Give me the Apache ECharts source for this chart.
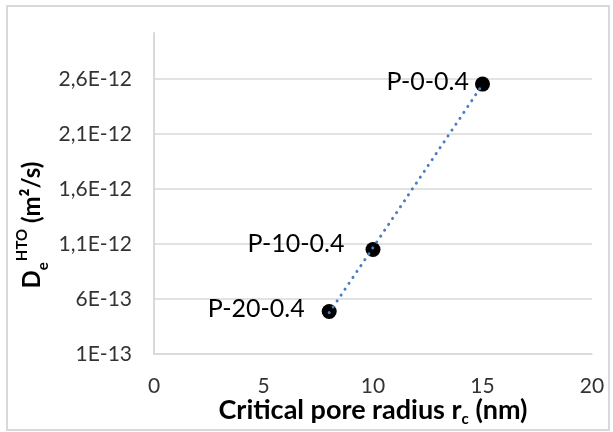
<!DOCTYPE html>
<html>
<head>
<meta charset="utf-8">
<script src="https://cdn.jsdelivr.net/npm/echarts@6/dist/echarts.min.js"></script>
<style>
html,body{margin:0;padding:0;background:#fff;}
#wrap{position:relative;width:613px;height:432px;}
#chart{position:absolute;left:0;top:0;width:613px;height:432px;}
#frame{position:absolute;left:6px;top:5px;width:604px;height:426px;box-sizing:border-box;border:2px solid #d9d9d9;pointer-events:none;}
</style>
</head>
<body>
<div id="wrap"><div id="chart"></div><div id="frame"></div></div>
<script>
// Data
const sampleNames = ['P-20-0.4', 'P-10-0.4', 'P-0-0.4'];
const poreRadius = [8, 10, 15];                 // nm
const diffusivity = [4.87e-13, 1.05e-12, 2.555e-12]; // m2/s
const trendX = [8, 15];
const trendY = [4.75e-13, 2.55e-12];
const xTicks = [0, 5, 10, 15, 20];
const yTickStart = 1e-13, yTickStep = 5e-13, yTop = 3.02e-12;

// label placement (style only)
const labelPlacement = [
  {distance: 17, offset: [0, -3]},
  {distance: 21, offset: [0, -6]},
  {distance: 6, offset: [0, -2]}
];

function fmtSci(v) {
  if (v <= 0) return '0';
  let e = Math.floor(Math.log10(v) + 1e-9);
  let m = v / Math.pow(10, e);
  m = Math.round(m * 10) / 10;
  if (m >= 10) { m = m / 10; e += 1; }
  let ms = (Math.abs(m - Math.round(m)) < 1e-9) ? String(Math.round(m)) : m.toFixed(1).replace('.', ',');
  return ms + 'E' + e;
}

const chart = echarts.init(document.getElementById('chart'), null, {renderer: 'canvas'});
const FONT = 'Lato';

const scatterData = poreRadius.map((x, i) => ({
  value: [x, diffusivity[i]],
  name: sampleNames[i],
  label: {
    show: true,
    position: 'left',
    distance: labelPlacement[i].distance,
    offset: labelPlacement[i].offset,
    formatter: sampleNames[i],
    fontFamily: FONT,
    fontSize: 25,
    color: '#000'
  }
}));

chart.setOption({
  animation: false,
  backgroundColor: '#fff',
  grid: {left: 154, right: 21, top: 33, bottom: 78, containLabel: false, outerBoundsMode: 'none'},
  graphic: [{
    type: 'text',
    x: 32, y: 225,
    rotation: Math.PI / 2,
    style: {
      text: '{b|D}{s|e}{p|HTO}{b| (m²/s)}',
      align: 'center',
      verticalAlign: 'middle',
      rich: {
        b: {fontFamily: FONT, fontSize: 24, fontWeight: 'bold', fill: '#000', lineHeight: 30},
        s: {fontFamily: FONT, fontSize: 15, fontWeight: 'bold', fill: '#000', lineHeight: 15, verticalAlign: 'bottom', padding: [0, 1, -4, 0]},
        p: {fontFamily: FONT, fontSize: 15, fontWeight: 'bold', fill: '#000', lineHeight: 15, verticalAlign: 'top', padding: [-2, 0, 0, 0]}
      }
    }
  }],
  xAxis: {
    type: 'value',
    min: 0, max: 20, interval: 5,
    axisLine: {show: true, lineStyle: {color: '#d9d9d9', width: 1.5}},
    axisTick: {show: false},
    splitLine: {show: false},
    axisLabel: {
      fontFamily: FONT, fontSize: 21, color: '#333', margin: 22,
      formatter: v => xTicks.includes(v) ? String(v) : ''
    },
    name: '{b|Critical pore radius r}{s|c}{b| (nm)}',
    nameLocation: 'middle',
    nameGap: 41,
    nameMoveOverlap: false,
    nameTextStyle: {
      rich: {
        b: {fontFamily: FONT, fontSize: 27, fontWeight: 'bold', color: '#000', lineHeight: 30},
        s: {fontFamily: FONT, fontSize: 15, fontWeight: 'bold', color: '#000', lineHeight: 15, verticalAlign: 'bottom', padding: [0, 0, -2, 0]}
      }
    }
  },
  yAxis: {
    type: 'value',
    min: yTickStart, max: yTop, interval: yTickStep,
    axisLine: {show: true, lineStyle: {color: '#d9d9d9', width: 2}},
    axisTick: {show: false},
    splitLine: {show: true, showMaxLine: false, lineStyle: {color: '#d9d9d9', width: 1.5}},
    axisLabel: {
      fontFamily: FONT, fontSize: 21, color: '#333', margin: 22,
      showMaxLabel: false,
      formatter: v => (v > yTop - 1e-15) ? '' : fmtSci(v)
    }
  },
  series: [
    {
      type: 'scatter',
      data: scatterData,
      symbol: 'circle',
      symbolSize: 15,
      itemStyle: {color: '#000', opacity: 1},
      z: 2
    },
    {
      type: 'line',
      data: trendX.map((x, i) => [x, trendY[i]]),
      symbol: 'none',
      lineStyle: {color: '#4a7ec2', width: 3, type: [0.1, 7], cap: 'round'},
      z: 3,
      silent: true
    }
  ]
});
</script>
</body>
</html>
